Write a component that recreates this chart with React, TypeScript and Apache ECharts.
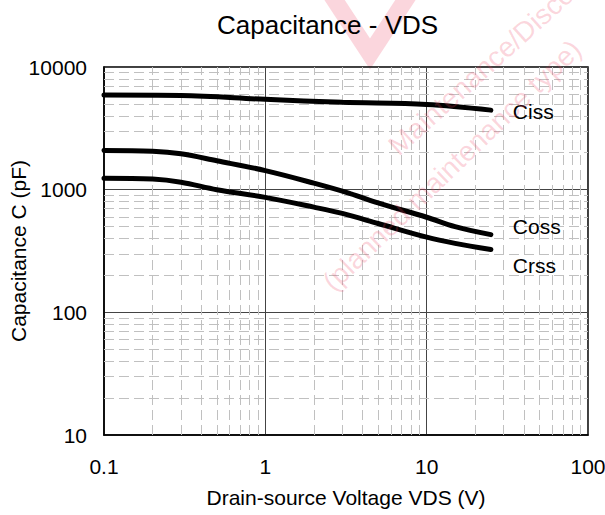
import React, { useEffect, useRef } from "react";
import * as echarts from "echarts";

const cissData: [number, number][] = [
  [0.1, 5900], [0.3, 5850], [1, 5450], [3, 5150], [10, 4950], [25, 4450],
];
const cossData: [number, number][] = [
  [0.1, 2090], [0.2, 2060], [0.3, 1960], [0.5, 1720], [1, 1430], [2, 1130],
  [3.36, 930], [5, 780], [10, 596], [15, 500], [25, 430],
];
const crssData: [number, number][] = [
  [0.1, 1240], [0.2, 1220], [0.3, 1150], [0.5, 1000], [1, 865], [2, 720],
  [3, 640], [5, 530], [10, 410], [15, 365], [25, 325],
];
const xDecades = [0.1, 1, 10];
const yDecades = [10, 100, 1000];
const minorSteps = [2, 3, 4, 5, 6, 7, 8, 9];

const FONT = "Liberation Sans, Arial, sans-serif";
const PINK = "rgba(238, 70, 100, 0.22)";

export default function App() {
  const ref = useRef<HTMLDivElement>(null);
  useEffect(() => {
    if (!ref.current) return;
    const chart = echarts.init(ref.current, null, { renderer: "svg" });
    const minorX: any[] = [];
    xDecades.forEach((d) => minorSteps.forEach((m) => minorX.push({ xAxis: +(d * m).toPrecision(6) })));
    const minorY: any[] = [];
    yDecades.forEach((d) => minorSteps.forEach((m) => minorY.push({ yAxis: +(d * m).toPrecision(6) })));

    const lineSeries = (name: string, data: [number, number][], offset: number[]) => ({
      name,
      type: "line",
      data,
      smooth: 0.35,
      showSymbol: false,
      lineStyle: { color: "#000", width: 5, cap: "round" },
      endLabel: {
        show: true,
        formatter: name,
        offset,
        color: "#000",
        fontSize: 21,
        fontFamily: FONT,
      },
      z: 5,
    });

    chart.setOption({
      animation: false,
      backgroundColor: "#fff",
      title: {
        text: "Capacitance - VDS",
        left: 212,
        top: 7,
        textStyle: { fontFamily: FONT, fontSize: 26, fontWeight: "normal", color: "#000" },
        z: 20,
      },
      grid: {
        left: 104, top: 67, right: 17, bottom: 80,
        outerBoundsMode: "none",
        containLabel: false,
        show: true, borderColor: "#000", borderWidth: 1.5, backgroundColor: "transparent",
      },
      xAxis: {
        type: "log",
        logBase: 10,
        min: 0.1,
        max: 100,
        name: "Drain-source Voltage VDS (V)",
        nameLocation: "middle",
        nameGap: 52,
        nameMoveOverlap: false,
        nameTextStyle: { fontFamily: FONT, fontSize: 21, color: "#000" },
        axisLine: { show: true, lineStyle: { color: "#000", width: 1.5 } },
        axisTick: { show: false },
        axisLabel: {
          fontFamily: FONT,
          fontSize: 21,
          color: "#000",
          margin: 21,
          hideOverlap: false,
          formatter: (v: number) => String(+v.toPrecision(3)),
        },
        splitLine: { show: true, lineStyle: { color: "#444", width: 1 } },
      },
      yAxis: {
        type: "log",
        logBase: 10,
        min: 10,
        max: 10000,
        name: "Capacitance C (pF)",
        nameLocation: "middle",
        nameGap: 75,
        nameMoveOverlap: false,
        nameTextStyle: { fontFamily: FONT, fontSize: 21, color: "#000" },
        axisLine: { show: true, lineStyle: { color: "#000", width: 1.5 } },
        axisTick: { show: false },
        axisLabel: {
          fontFamily: FONT,
          fontSize: 21,
          color: "#000",
          margin: 17,
          formatter: (v: number) => String(Math.round(v)),
        },
        splitLine: { show: true, lineStyle: { color: "#444", width: 1 } },
      },
      graphic: [
        {
          type: "polyline",
          shape: { points: [[328, -10], [370, 54], [412, -10]] },
          style: { stroke: PINK, lineWidth: 17, fill: "none", lineJoin: "miter" },
          z: -10,
          silent: true,
        },
        {
          type: "text",
          x: 402,
          y: 160,
          rotation: (42 * Math.PI) / 180,
          style: {
            text: "Maintenance/Discontinued",
            fontSize: 28,
            fontFamily: FONT,
            fill: PINK,
            verticalAlign: "bottom",
          },
          z: 100,
          silent: true,
        },
        {
          type: "text",
          x: 337,
          y: 296,
          rotation: (44 * Math.PI) / 180,
          style: {
            text: "(planned maintenance type)",
            fontSize: 28,
            fontFamily: FONT,
            fill: PINK,
            verticalAlign: "bottom",
          },
          z: 100,
          silent: true,
        },
      ],
      series: [
        {
          type: "line",
          data: [],
          silent: true,
          markLine: {
            silent: true,
            symbol: "none",
            label: { show: false },
            lineStyle: { color: "#c0c0c0", type: [10, 5], width: 1 },
            data: [...minorX, ...minorY],
          },
          z: 1,
        },
        lineSeries("Ciss", cissData, [14, 1]),
        lineSeries("Coss", cossData, [14, -8]),
        lineSeries("Crss", crssData, [14, 16]),
      ],
    });
    return () => chart.dispose();
  }, []);
  return (
    <div
      ref={ref}
      style={{ position: "fixed", left: 0, top: 0, width: 605, height: 515 }}
    />
  );
}
